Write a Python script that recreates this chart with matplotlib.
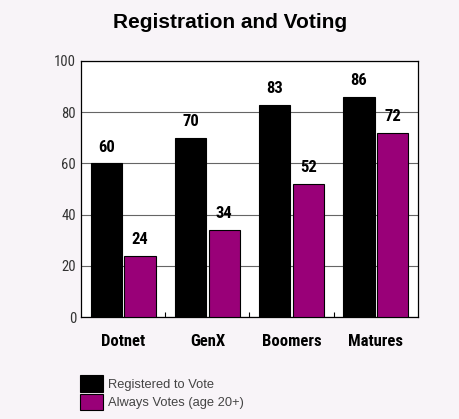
import matplotlib.pyplot as plt
import numpy as np

groups = ['Dotnet', 'GenX', 'Boomers', 'Matures']
registered = [60, 70, 83, 86]
always_votes = [24, 34, 52, 72]
series_names = ['Registered to Vote', 'Always Votes (age 20+)']
colors = ['#000000', '#990078']
bg = '#f8f4f8'

narrow = ['Roboto Condensed', 'Archivo Narrow', 'DejaVu Sans']
sans = ['Liberation Sans', 'DejaVu Sans']

fig = plt.figure(figsize=(4.6, 4.19), dpi=100, facecolor=bg)
ax = fig.add_axes([81/460, 1 - 317/419, 337/460, 256/419])
ax.set_facecolor('white')

x = np.arange(len(groups))
width = 0.37
b1 = ax.bar(x + 0.30, registered, width, color=colors[0], edgecolor='black',
            linewidth=0.8, label=series_names[0], zorder=3)
b2 = ax.bar(x + 0.70, always_votes, width, color=colors[1], edgecolor='black',
            linewidth=0.8, label=series_names[1], zorder=3)

for bars in (b1, b2):
    for bar in bars:
        h = bar.get_height()
        ax.text(bar.get_x() + bar.get_width() / 2, h + 3.4, f'{h:.0f}',
                ha='center', va='bottom', fontsize=12, fontweight='bold',
                family=narrow, color='black')

ax.set_xlim(0, 4)
ax.set_ylim(0, 100)
ax.set_yticks([0, 20, 40, 60, 80, 100])
ax.yaxis.grid(True, color='#666666', linewidth=0.8, zorder=0)
ax.set_axisbelow(True)
ax.tick_params(axis='y', length=0, pad=3.6, labelsize=10.5, labelcolor='#333333')
for lbl in ax.get_yticklabels():
    lbl.set_family(narrow)

ax.set_xticks([1, 2, 3])
ax.set_xticklabels([])
ax.tick_params(axis='x', direction='in', length=3.8, width=0.8, color='black')
for i, g in enumerate(groups):
    ax.text(i + 0.5, -6.5, g, ha='center', va='top', fontsize=12,
            fontweight='bold', family=narrow)

for s in ax.spines.values():
    s.set_linewidth(0.9)

fig.text(0.5, 1 - 23/419, 'Registration and Voting', ha='center', va='center',
         fontsize=15, fontweight='bold', family=sans)

fig.legend(handles=[b1, b2], loc='upper left',
           bbox_to_anchor=(71/460, 1 - 366/419), frameon=False,
           prop={'family': sans, 'size': 9.3}, labelcolor='#444444',
           handlelength=1.75, handleheight=1.6, handletextpad=0.45,
           labelspacing=0.15, borderpad=0.2)

fig.savefig('out.png', dpi=100, facecolor=bg)
